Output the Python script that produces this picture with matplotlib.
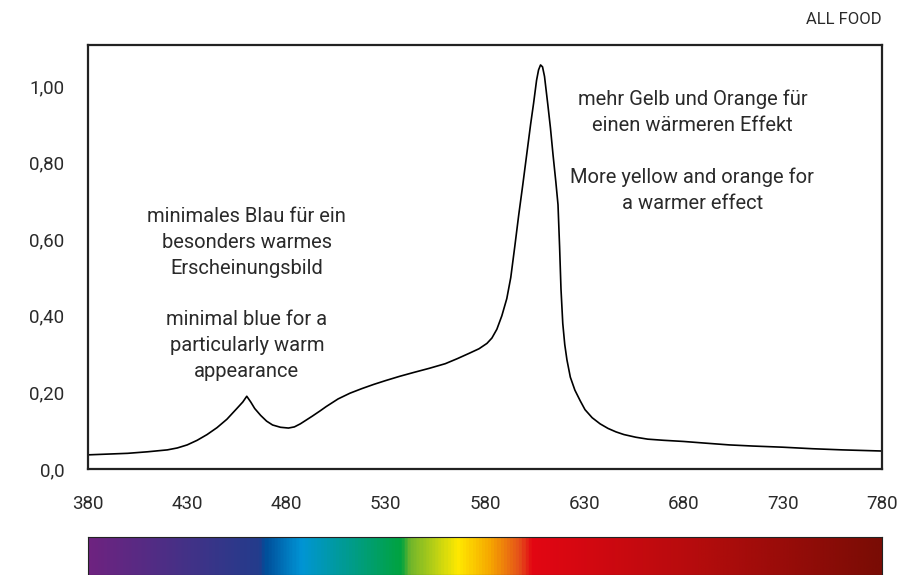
import matplotlib.pyplot as plt
import numpy as np
from matplotlib.colors import LinearSegmentedColormap

# -----------------------------
# Data
# -----------------------------

wavelength = [380, 390, 400, 410, 420, 425, 430, 435, 440, 445, 450, 455,
              458, 460, 462, 464, 467, 470, 473, 477, 481, 484, 487, 490,
              493, 497, 500, 506, 512, 518, 524, 530, 537, 544, 552, 560,
              566, 572, 577, 581, 583.5, 586, 588.5, 591, 593, 595, 597, 599,
              601, 603, 604.5, 606, 607, 608, 609, 610, 611.7, 613, 614.3,
              615.7, 616.8, 617.6, 618.3, 619.2, 620.2, 621.3, 623, 625.3,
              628, 630.4, 634, 638, 642, 646, 650, 656, 662, 670, 680, 690,
              703, 715, 730, 745, 760, 780]
intensity = [0.037, 0.039, 0.041, 0.045, 0.050, 0.055, 0.063, 0.075, 0.090,
             0.108, 0.130, 0.158, 0.175, 0.190, 0.175, 0.158, 0.140, 0.125,
             0.115, 0.109, 0.107, 0.110, 0.118, 0.128, 0.138, 0.152, 0.163,
             0.183, 0.198, 0.210, 0.221, 0.231, 0.242, 0.252, 0.263, 0.275,
             0.288, 0.302, 0.314, 0.328, 0.342, 0.365, 0.400, 0.445, 0.500,
             0.580, 0.663, 0.740, 0.820, 0.900, 0.955, 1.015, 1.042, 1.055,
             1.050, 1.025, 0.950, 0.890, 0.820, 0.750, 0.690, 0.580, 0.470,
             0.380, 0.325, 0.285, 0.240, 0.206, 0.178, 0.155, 0.134, 0.118,
             0.106, 0.097, 0.090, 0.083, 0.078, 0.075, 0.072, 0.068, 0.063,
             0.060, 0.057, 0.053, 0.050, 0.047]

x_ticks = [380, 430, 480, 530, 580, 630, 680, 730, 780]
y_ticks = [0.0, 0.2, 0.4, 0.6, 0.8, 1.0]
y_labels = ["0,0", "0,20", "0,40", "0,60", "0,80", "1,00"]

title = "ALL FOOD"
note_left = ("minimales Blau für ein\nbesonders warmes\nErscheinungsbild\n\n"
             "minimal blue for a\nparticularly warm\nappearance")
note_right = ("mehr Gelb und Orange für\neinen wärmeren Effekt\n\n"
              "More yellow and orange for\na warmer effect")

# spectrum bar colour stops (fraction along bar, colour)
spectrum_stops = [
    (0.0, "#6E2380"), (0.215, "#233C8C"), (0.222, "#004E9A"),
    (0.268, "#0095D5"), (0.394, "#00A33F"), (0.405, "#6FB52C"),
    (0.466, "#FFE900"), (0.506, "#F6A800"), (0.544, "#E5501A"),
    (0.559, "#E30613"), (0.77, "#B40C0D"), (1.0, "#7A0C05"),
]

# -----------------------------
# Plot
# -----------------------------

plt.rcParams['font.family'] = ['Roboto', 'DejaVu Sans']
text_color = "#2a2a2a"

fig = plt.figure(figsize=(9.24, 5.75), dpi=100)
ax = fig.add_axes([0.0952, 0.1843, 0.8593, 0.7374])

ax.plot(wavelength, intensity, color="black", lw=1.2)

ax.set_xlim(380, 780)
ax.set_ylim(0, 1.107)
ax.set_xticks(x_ticks)
ax.set_xticklabels([str(v) for v in x_ticks])
ax.set_yticks(y_ticks)
ax.set_yticklabels(y_labels)
ax.tick_params(length=0, labelsize=13.5, colors=text_color)
ax.tick_params(axis="x", pad=19)
ax.tick_params(axis="y", pad=17)
for s in ax.spines.values():
    s.set_linewidth(1.6)
    s.set_color("#222222")

ax.text(1.0, 1.043, title, transform=ax.transAxes, ha="right", va="bottom",
        fontsize=12, color=text_color)

ax.text(460, 0.457, note_left, ha="center", va="center", fontsize=14.5,
        color=text_color, linespacing=1.45)
ax.text(684.5, 0.83, note_right, ha="center", va="center", fontsize=14.5,
        color=text_color, linespacing=1.45)

# spectrum bar
cmap = LinearSegmentedColormap.from_list("spectrum", spectrum_stops)
bar_ax = fig.add_axes([0.0952, 0.0, 0.8593, 0.066])
gradient = np.linspace(0, 1, 800).reshape(1, -1)
bar_ax.imshow(gradient, aspect="auto", cmap=cmap, extent=[0, 1, 0, 1])
bar_ax.set_xticks([])
bar_ax.set_yticks([])
for s in bar_ax.spines.values():
    s.set_linewidth(0.8)
    s.set_color("#222222")

fig.savefig("out.png", dpi=100)
